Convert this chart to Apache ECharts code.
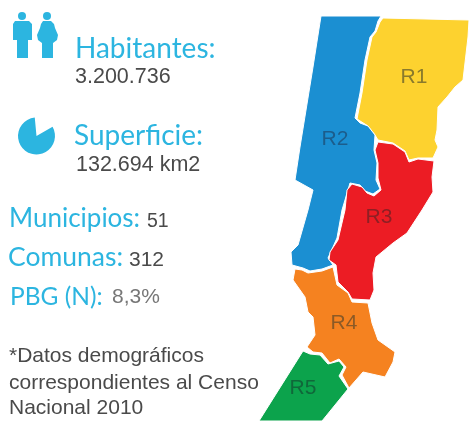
<!DOCTYPE html>
<html>
<head>
<meta charset="utf-8">
<style>
  html, body { margin: 0; padding: 0; background: #fff; }
  #chart { width: 470px; height: 421px; filter: blur(0.5px); }
</style>
<script src="https://cdn.jsdelivr.net/npm/echarts@6/dist/echarts.min.js"></script>
</head>
<body>
<div id="chart"></div>
<script>
  // datos
  const regionNames = ['R1', 'R2', 'R3', 'R4', 'R5'];
  const statLabels = ['Habitantes:', 'Superficie:', 'Municipios:', 'Comunas:', 'PBG (N):'];
  const statValues = ['3.200.736', '132.694 km2', '51', '312', '8,3%'];
  const noteLines = ['*Datos demográficos', 'correspondientes al Censo', 'Nacional 2010'];

  const regionColors = ['#fdd22f', '#1b8fd2', '#ec1c24', '#f58220', '#0ca34c'];
  const regionLabelColors = ['#8a7a2c', '#1c5d8c', '#8f1f24', '#8c5a26', '#10683a'];
  const cyan = '#2cb5e0';

  // contornos de las regiones (en px de la imagen, y hacia abajo)
  const r1Outline = [[383,18],[469,20],[468,37],[463,80],[455,87],[447,97],[438,107],[437,130],[435,140],[438,147],[433,158],[418,158],[409,160],[405,151],[393,143],[378,140],[375,135],[368,126],[357,119],[362,93],[367,60],[372,37],[376,32],[380,22]];
  const r2Outline = [[321,16],[381,16],[378,21],[375,31],[370,37],[365,60],[360,93],[355,118],[360,123],[368,126],[375,135],[374,150],[377,163],[376,180],[380,189],[373,194],[365,191],[360,185],[350,183],[345,200],[342,210],[337,238],[328,258],[333,265],[322,269],[310,271],[303,268],[292,265],[291,252],[298,245],[308,210],[313,190],[295,180],[300,147],[313,67]];
  const r3Outline = [[378,142],[393,144],[405,152],[409,162],[418,159],[434,161],[432,177],[433,192],[422,210],[407,233],[393,243],[376,257],[373,273],[374,290],[370,300],[352,299],[348,292],[338,282],[336,265],[329,260],[330,252],[338,240],[345,210],[347,190],[352,184],[362,187],[367,193],[374,196],[381,190],[378,178],[378,163],[375,150]];
  const r4Outline = [[295,269],[302,270],[308,273],[322,271],[333,267],[337,285],[348,293],[352,302],[368,303],[372,323],[378,340],[395,352],[393,362],[385,377],[363,372],[349,388],[342,375],[346,367],[339,359],[330,363],[322,353],[313,352],[307,347],[315,335],[313,317],[308,312],[305,297],[293,280]];
  const r5Outline = [[303,351],[310,354],[320,355],[328,364],[339,361],[344,367],[339,376],[348,389],[322,421],[259,421]];
  const regionOutlines = [r1Outline, r2Outline, r3Outline, r4Outline, r5Outline];
  const labelSpots = [[414,77],[335,139],[379,217],[344,323],[303,388]];

  const geoJson = {
    type: 'FeatureCollection',
    features: regionNames.map(function (name, i) {
      const ring = regionOutlines[i].map(function (p) { return [p[0], -p[1]]; });
      ring.push(ring[0]);
      return {
        type: 'Feature',
        properties: { name: name, cp: [labelSpots[i][0], -labelSpots[i][1]] },
        geometry: { type: 'Polygon', coordinates: [ring] }
      };
    })
  };
  echarts.registerMap('santafe', geoJson);

  function cyanText(text, x, y, size) {
    return {
      type: 'text',
      x: x,
      y: y,
      style: { text: text, fill: cyan, font: '400 ' + size + 'px Lato', textVerticalAlign: 'middle' }
    };
  }
  function grayText(text, x, y, size, color) {
    return {
      type: 'text',
      x: x,
      y: y,
      style: { text: text, fill: color || '#4a4a4a', font: size + 'px "Liberation Sans"', textVerticalAlign: 'middle' }
    };
  }

  const graphics = [
    // hombre
    { type: 'circle', shape: { cx: 22, cy: 16, r: 4 }, style: { fill: cyan } },
    { type: 'polygon', shape: { points: [[15,21],[29,21],[32,24],[32,40],[28,40],[28,58],[17,58],[17,40],[13,40],[13,24]] }, style: { fill: cyan } },
    // mujer
    { type: 'circle', shape: { cx: 47, cy: 16, r: 4 }, style: { fill: cyan } },
    { type: 'polygon', shape: { points: [[43,21],[51,21],[54,24],[55,28],[58,35],[57,40],[53,43],[53,58],[42,58],[42,43],[38,40],[37,35],[40,28],[41,24]] }, style: { fill: cyan } },
    // torta de superficie
    { type: 'sector', shape: { cx: 36.5, cy: 136, r0: 0, r: 18.5, startAngle: -0.52, endAngle: Math.PI * 1.47, clockwise: true }, style: { fill: cyan } },

    cyanText(statLabels[0], 75, 49, 28),
    grayText(statValues[0], 75, 77, 21.5),
    cyanText(statLabels[1], 74, 136, 28),
    grayText(statValues[1], 76, 165, 21.5),
    cyanText(statLabels[2], 9, 219, 26),
    grayText(statValues[2], 147, 222, 19.5),
    cyanText(statLabels[3], 8, 257, 26.5),
    grayText(statValues[3], 129, 260, 21),
    cyanText(statLabels[4], 10, 297, 24.5),
    grayText(statValues[4], 112, 297, 21, '#777'),
    grayText(noteLines[0], 9, 356, 21),
    grayText(noteLines[1], 9, 383, 21),
    grayText(noteLines[2], 9, 408, 21)
  ];

  const myChart = echarts.init(document.getElementById('chart'), null, { renderer: 'canvas' });
  myChart.setOption({
    animation: false,
    backgroundColor: '#fff',
    graphic: graphics,
    series: [
      {
        type: 'map',
        map: 'santafe',
        roam: false,
        silent: true,
        aspectScale: 1,
        boundingCoords: [[0, 0], [470, -421]],
        left: 0,
        top: 0,
        width: 470,
        height: 421,
        label: {
          show: true,
          fontFamily: 'Liberation Sans',
          fontSize: 21
        },
        itemStyle: {
          borderColor: '#fff',
          borderWidth: 1
        },
        data: regionNames.map(function (name, i) {
          return {
            name: name,
            value: i + 1,
            itemStyle: { areaColor: regionColors[i] },
            label: { color: regionLabelColors[i] }
          };
        })
      }
    ]
  });
</script>
</body>
</html>
